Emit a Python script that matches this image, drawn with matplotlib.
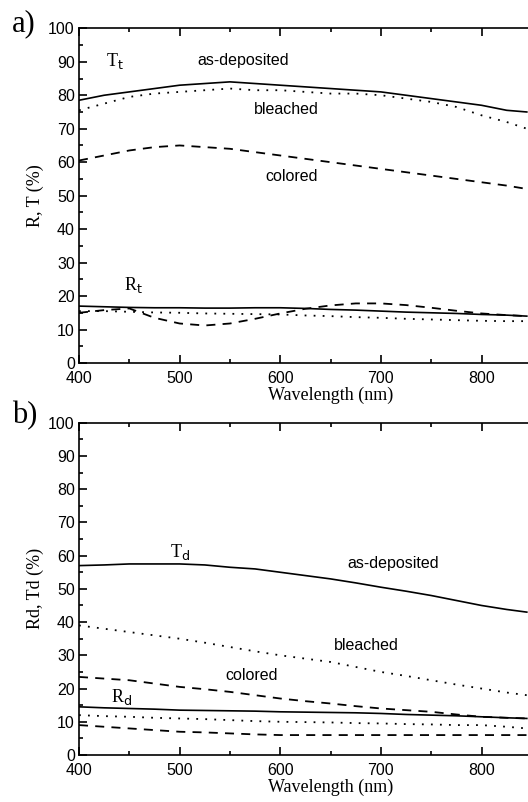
import matplotlib.pyplot as plt
from matplotlib.ticker import MultipleLocator, FixedLocator

# Wellenlängen (nm)
wl = [400, 425, 450, 475, 500, 525, 550, 575, 600, 625, 650, 675, 700, 725, 750, 775, 800, 825, 845]

# a) Gesamttransmission / -reflexion
Tt_dep = [78.5, 80, 81, 82, 83, 83.5, 84, 83.5, 83, 82.5, 82, 81.5, 81, 80, 79, 78, 77, 75.5, 75]
Tt_ble = [75.5, 77.5, 79.5, 80.5, 81, 81.5, 82, 81.5, 81.5, 81, 80.5, 80.5, 80, 79, 78, 76.5, 74, 72, 70]
Tt_col = [60.5, 62, 63.5, 64.5, 65, 64.5, 64, 63, 62, 61, 60, 59, 58, 57, 56, 55, 54, 53, 52]
Rt_dep = [17, 16.8, 16.6, 16.5, 16.5, 16.4, 16.4, 16.5, 16.5, 16.3, 16, 15.8, 15.5, 15.2, 15, 14.8, 14.5, 14.3, 14]
Rt_ble = [15.5, 15.5, 15.3, 15.1, 15, 14.8, 14.7, 14.6, 14.5, 14.2, 14, 13.7, 13.5, 13.2, 13, 12.8, 12.6, 12.5, 12.5]
Rt_col = [15, 15.8, 16.3, 13.5, 11.8, 11.2, 11.8, 13.2, 14.8, 16.2, 17.2, 17.8, 17.8, 17.3, 16.5, 15.6, 14.8, 14.3, 14]

# b) diffuse Transmission / Reflexion
Td_dep = [57, 57.2, 57.5, 57.5, 57.5, 57.2, 56.5, 56, 55, 54, 53, 51.8, 50.5, 49.3, 48, 46.5, 45, 43.8, 43]
Td_ble = [39, 38, 37, 36, 35, 33.8, 32.5, 31.2, 30, 29, 28, 26.5, 25, 23.8, 22.5, 21.2, 20, 18.8, 18]
Td_col = [23.5, 23, 22.5, 21.5, 20.5, 19.8, 19, 18, 17, 16.2, 15.5, 14.7, 14, 13.5, 13, 12.2, 11.5, 11.2, 11]
Rd_dep = [14.5, 14.2, 14, 13.8, 13.5, 13.4, 13.3, 13.2, 13, 12.9, 12.8, 12.7, 12.5, 12.2, 12, 11.8, 11.5, 11.2, 11]
Rd_ble = [12, 11.7, 11.5, 11.2, 11, 10.8, 10.5, 10.2, 10, 9.9, 9.8, 9.6, 9.5, 9.3, 9.2, 9, 9, 8.5, 8]
Rd_col = [9, 8.5, 8, 7.5, 7, 6.8, 6.5, 6.2, 6, 6, 6, 6, 6, 6, 6, 6, 6, 6, 6]

x_ticks = [400, 500, 600, 700, 800]

SANS = "Liberation Sans"
SERIF = "Liberation Serif"
DOT = (0, (1, 4))
DASH = (0, (5, 4))

fig = plt.figure(figsize=(5.28, 8.02), dpi=100)
ax_a = fig.add_axes([0.1496, 0.5474, 0.953, 0.4173])
ax_b = fig.add_axes([0.1496, 0.0586, 0.953, 0.4143])


def style(ax, ylabel):
    ax.set_xlim(400, 900)
    ax.set_ylim(0, 100)
    ax.xaxis.set_major_locator(FixedLocator(x_ticks))
    ax.xaxis.set_minor_locator(FixedLocator([450, 550, 650, 750]))
    ax.yaxis.set_major_locator(MultipleLocator(10))
    ax.yaxis.set_minor_locator(MultipleLocator(5))
    ax.tick_params(which="both", direction="in", top=True, right=False, width=1.2)
    ax.tick_params(which="major", length=6, labelsize=11.5)
    ax.tick_params(axis="x", which="major", pad=6)
    ax.tick_params(axis="y", which="major", pad=3)
    ax.tick_params(which="minor", length=3)
    for lab in ax.get_xticklabels() + ax.get_yticklabels():
        lab.set_fontfamily(SANS)
    ax.spines["right"].set_visible(False)
    for s in ["left", "bottom", "top"]:
        ax.spines[s].set_linewidth(1.2)
    ax.set_xlabel("Wavelength (nm)", fontfamily=SERIF, fontsize=13, labelpad=0)
    ax.set_ylabel(ylabel, fontfamily=SERIF, fontsize=13, labelpad=3)


# Panel a
ax_a.plot(wl, Tt_dep, color="black", lw=1.2)
ax_a.plot(wl, Tt_ble, color="black", lw=1.3, linestyle=DOT)
ax_a.plot(wl, Tt_col, color="black", lw=1.3, linestyle=DASH)
ax_a.plot(wl, Rt_dep, color="black", lw=1.2)
ax_a.plot(wl, Rt_ble, color="black", lw=1.3, linestyle=DOT)
ax_a.plot(wl, Rt_col, color="black", lw=1.3, linestyle=DASH)
style(ax_a, "R, T (%)")
ax_a.text(436, 90.3, r"T$_{\rm t}$", fontfamily=SERIF, fontsize=13, ha="center", va="center")
ax_a.text(563, 90.3, "as-deposited", fontfamily=SANS, fontsize=11.5, ha="center", va="center")
ax_a.text(606, 75.6, "bleached", fontfamily=SANS, fontsize=11.5, ha="center", va="center")
ax_a.text(611, 55.6, "colored", fontfamily=SANS, fontsize=11.5, ha="center", va="center")
ax_a.text(454, 23.3, r"R$_{\rm t}$", fontfamily=SERIF, fontsize=13, ha="center", va="center")

# Panel b
ax_b.plot(wl, Td_dep, color="black", lw=1.2)
ax_b.plot(wl, Td_ble, color="black", lw=1.3, linestyle=DOT)
ax_b.plot(wl, Td_col, color="black", lw=1.3, linestyle=DASH)
ax_b.plot(wl, Rd_dep, color="black", lw=1.2)
ax_b.plot(wl, Rd_ble, color="black", lw=1.3, linestyle=DOT)
ax_b.plot(wl, Rd_col, color="black", lw=1.3, linestyle=DASH)
style(ax_b, "Rd, Td (%)")
ax_b.text(500, 61, r"T$_{\rm d}$", fontfamily=SERIF, fontsize=13, ha="center", va="center")
ax_b.text(712, 57.7, "as-deposited", fontfamily=SANS, fontsize=11.5, ha="center", va="center")
ax_b.text(686, 33, "bleached", fontfamily=SANS, fontsize=11.5, ha="center", va="center")
ax_b.text(572, 23.8, "colored", fontfamily=SANS, fontsize=11.5, ha="center", va="center")
ax_b.text(442, 17.5, r"R$_{\rm d}$", fontfamily=SERIF, fontsize=13, ha="center", va="center")

# Panelbuchstaben
fig.text(0.022, 0.970, "a)", fontfamily=SERIF, fontsize=22, ha="left", va="center")
fig.text(0.022, 0.482, "b)", fontfamily=SERIF, fontsize=22, ha="left", va="center")

plt.savefig("out.png", dpi=100)
